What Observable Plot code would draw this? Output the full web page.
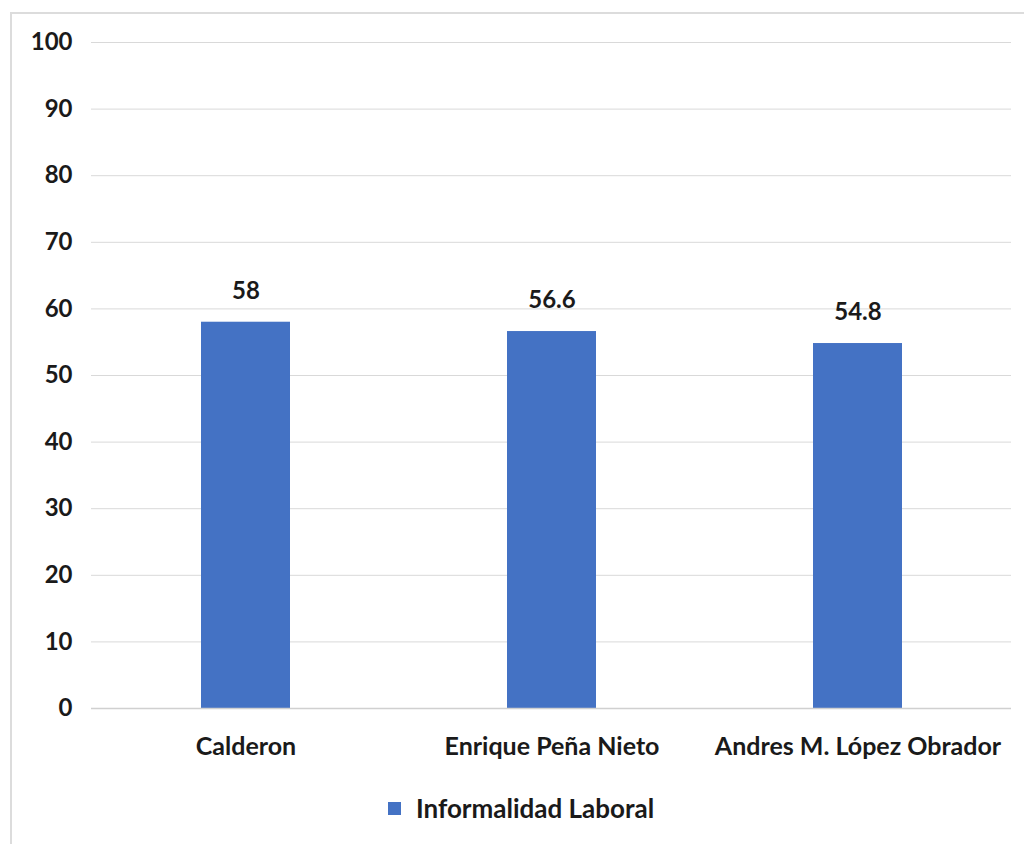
<!DOCTYPE html>
<html>
<head>
<meta charset="utf-8">
<script src="https://cdn.jsdelivr.net/npm/d3@7"></script>
<script src="https://cdn.jsdelivr.net/npm/@observablehq/plot@0.6"></script>
<style>
  html, body { margin: 0; padding: 0; background: #fff; width: 1024px; height: 844px; overflow: hidden; }
  #frame { position: absolute; left: 10px; top: 12px; width: 1030px; height: 850px; border-left: 2px solid #dcdcdc; border-top: 2px solid #dcdcdc; box-sizing: border-box; }
  #chart { position: absolute; left: 0; top: 0; }
  #legend { position: absolute; left: 388px; top: 792px; font-family: Lato, "Open Sans", sans-serif; font-weight: 700; font-size: 26px; color: #1a1a1a; display: flex; align-items: center; }
  #legend .sw { width: 13px; height: 13px; background: #4472c4; margin-right: 15px; }
</style>
</head>
<body>
<div id="frame"></div>
<div id="chart"></div>
<div id="legend"><span class="sw"></span><span id="legend-label"></span></div>
<script>
const categories = ["Calderon", "Enrique Peña Nieto", "Andres M. López Obrador"];
const values = [58, 56.6, 54.8];
const labels = ["58", "56.6", "54.8"];
const yTicks = [0, 10, 20, 30, 40, 50, 60, 70, 80, 90, 100];
const seriesName = "Informalidad Laboral";

const data = categories.map((c, i) => ({category: c, value: values[i], label: labels[i]}));

const chart = Plot.plot({
  width: 1024,
  height: 770,
  marginTop: 42,
  marginBottom: 62,
  marginLeft: 91,
  marginRight: 13,
  style: {fontFamily: "Lato, 'Open Sans', sans-serif", fontSize: "24px", fontWeight: 700, color: "#1a1a1a", background: "transparent"},
  x: {domain: categories, paddingInner: 0.71, paddingOuter: 0.355, label: null},
  y: {domain: [0, 100], label: null},
  marks: [
    Plot.gridY(yTicks, {stroke: "#d9d9d9", strokeOpacity: 1, strokeWidth: 1}),
    Plot.barY(data, {x: "category", y: "value", fill: "#4472c4"}),
    Plot.text(data, {x: "category", y: "value", text: "label", dy: -31, fill: "#1a1a1a", fontSize: 24, fontWeight: 700}),
    Plot.axisY({ticks: yTicks, tickSize: 0, tickPadding: 19, fontSize: 24, fontWeight: 700, label: null}),
    Plot.axisX({tickSize: 0, tickPadding: 29, fontSize: 25, fontWeight: 700, label: null}),
    Plot.ruleY([0], {stroke: "#d0d0d0", strokeWidth: 1.5})
  ]
});
document.getElementById("chart").appendChild(chart);
document.getElementById("legend-label").textContent = seriesName;
</script>
</body>
</html>
